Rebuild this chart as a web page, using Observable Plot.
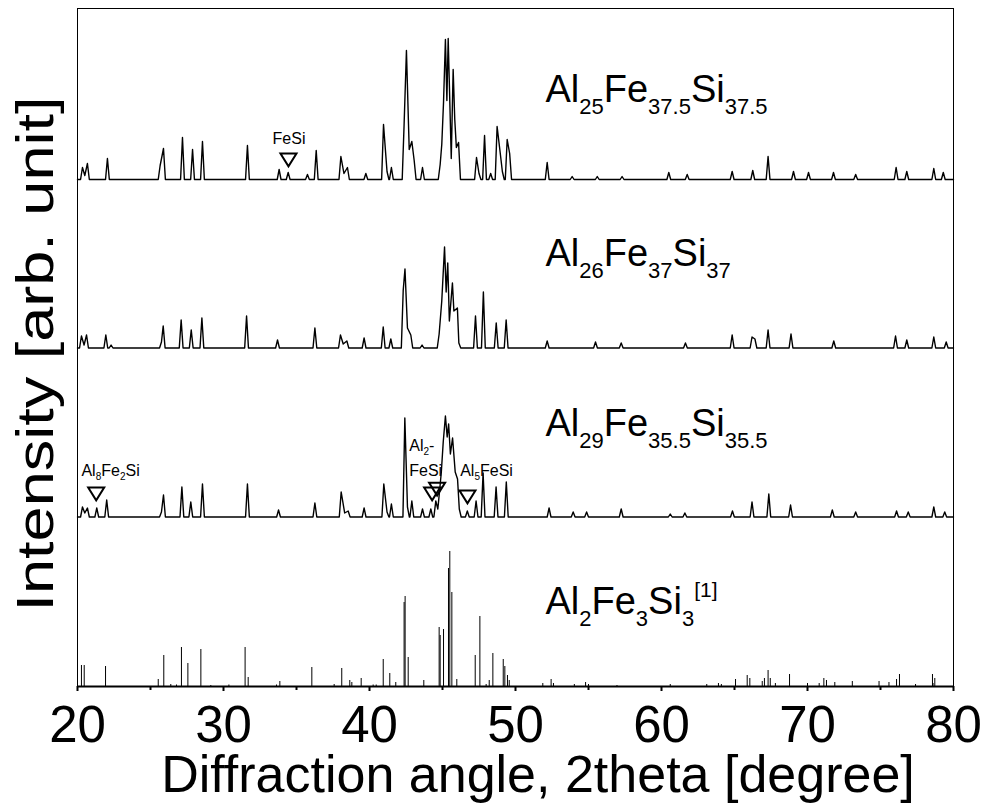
<!DOCTYPE html>
<html><head><meta charset="utf-8">
<script src="https://cdn.jsdelivr.net/npm/d3@7"></script>
<script src="https://cdn.jsdelivr.net/npm/@observablehq/plot@0.6"></script>
<style>body{margin:0;background:#fff} svg{display:block}</style>
</head><body><div id="chart"></div>
<script>
// ---- axis ticks ----
const xTicksMajor = [20, 30, 40, 50, 60, 70, 80];
const xTicksMinor = [25, 35, 45, 55, 65, 75];

// ---- vertical offsets of the measured patterns (intensity units) ----
const offsets = [507, 338.5, 169.5];

// ---- measured patterns: [2theta, intensity above baseline] vertices ----
const pat25 = [
  [20.34,12],[20.5,4],[20.68,16],[22.05,21],[25.66,14],[25.89,31],[27.19,42],[27.88,30],[28.56,38],
  [31.64,34],[33.81,10],[34.43,7],[35.75,5],[36.35,29],[38.04,23],[38.25,6],[38.49,12],[39.75,6],
  [40.96,55],[41.2,8],[41.5,12],[42.37,55],[42.53,129],[42.72,30],[42.9,38],[43.06,19],[43.63,12],
  [44.84,15],[44.95,35],[45.07,77],[45.2,140],[45.3,79],[45.39,141],[45.6,21],[45.73,110],[45.84,60],
  [45.95,32],[46.1,37],[47.33,22],[47.5,6],[47.88,44],[48.3,6],[48.74,53],[48.95,27],[49.1,8],
  [49.43,40],[49.6,26],[52.17,17],[53.88,3],[55.6,3],[57.3,3],[60.5,7],[61.76,5],[64.84,8],[66.25,9],
  [67.3,23],[69.04,8],[70.07,7],[71.78,7],[73.3,5],[76.07,12],[76.8,8],[78.65,11],[79.3,7]
];
const pat26 = [
  [20.27,12],[20.45,3],[20.62,13],[21.94,13],[22.3,3],[25.75,6],[25.87,22],[27.1,28],[27.79,18],
  [28.52,30],[31.58,32],[33.7,8],[36.26,20],[38.01,13],[38.2,4],[38.45,7],[39.63,10],[40.94,21],
  [41.46,9],[42.31,58],[42.43,79],[42.6,20],[42.83,13],[43.6,3],[44.77,14],[44.95,47],[45.14,101],
  [45.25,56],[45.36,85],[45.47,27],[45.68,65],[45.78,37],[46.02,40],[46.12,5],[47.26,32],[47.8,56],
  [48.68,25],[49.36,28],[52.17,7],[55.48,6],[57.24,5],[61.64,5],[64.84,13],[66.2,11],[66.4,9],
  [67.3,18],[68.87,14],[71.8,7],[76.03,12],[76.8,8],[78.65,11],[79.5,6]
];
const pat29 = [
  [20.34,10],[20.5,4],[20.68,9],[21.32,9],[22.0,17],[25.75,5],[25.89,22],[27.15,30],[27.76,15],
  [28.56,33],[31.64,33],[33.77,7],[36.26,14],[38.06,25],[38.3,4],[38.54,6],[39.63,9],[40.98,33],
  [41.2,5],[41.5,13],[42.42,99],[42.6,10],[42.9,16],[43.63,8],[44.2,8],[44.54,16],[44.68,8],[44.8,26],
  [44.92,45],[45.05,75],[45.2,101],[45.32,80],[45.42,93],[45.54,63],[45.69,79],[45.87,45],[46.03,38],
  [46.15,8],[46.7,6],[47.3,16],[47.78,44],[48.67,30],[49.37,35],[52.3,9],[53.95,5],[54.87,5],[57.24,8],
  [60.6,3],[61.6,4],[64.86,6],[66.2,15],[67.35,23],[68.84,12],[71.7,7],[73.3,5],[76.1,6],[76.9,5],
  [78.65,10],[79.4,5]
];
// ---- reference stick pattern Al2Fe3Si3: [2theta, intensity] ----
const sticks = [
  [20.27,21],[20.46,21],[21.92,20],[25.53,7],[25.91,31],[26.39,2],[26.78,1.5],[27.12,39],[27.56,23],
  [28.45,37],[29.13,1],[30.37,1.5],[31.48,39],[31.69,9],[33.63,1.5],[33.86,5],[36.05,19],[37.58,2],
  [38.1,18],[38.65,6],[38.79,4],[39.43,8],[40.25,1.5],[40.46,1.5],[40.94,27],[41.39,13],[41.8,4],
  [42.37,84],[42.44,90],[42.65,29],[43.72,6],[44.77,59],[44.84,51],[45.07,57],[45.41,118],[45.5,135],
  [45.64,94],[45.98,7],[47.24,31],[47.56,70],[47.99,2],[48.2,6],[48.45,33],[49.16,27],[49.27,20],
  [49.45,11],[49.57,6],[51.87,3],[52.44,7],[52.6,3],[54.03,2],[54.8,4],[55.0,2],[56.95,1],[60.6,2],
  [63.1,2],[63.9,3],[64.1,2],[65.07,7],[65.87,11],[66.05,8],[66.9,5],[67.05,8],[67.3,16],[67.45,8],
  [67.8,3],[68.77,12],[70.0,3],[70.8,3],[71.12,8],[71.3,6],[71.87,4],[73.07,5],[74.9,5],[75.58,4],
  [76.1,7],[76.3,12],[77.4,2],[78.56,12],[78.6,3],[78.72,8]
];

// ---- labels ----
const sampleLabels = ["Al_{25}Fe_{37.5}Si_{37.5}", "Al_{26}Fe_{37}Si_{37}", "Al_{29}Fe_{35.5}Si_{35.5}", "Al_{2}Fe_{3}Si_{3}^{[1]}"];
const sampleLabelX = [52.05, 52.05, 52.05, 52.05];
const sampleLabelY = [585, 421, 251, 73];
const phaseLabels = ["FeSi ", "Al_{8}Fe_{2}Si", "Al_{2}-", "FeSi", "Al_{5}FeSi"];
const phaseLabelX = [33.36, 20.27, 42.72, 42.72, 46.21];
const phaseLabelY = [542.7, 211, 236, 211, 211];
const markerX = [34.45, 21.28, 44.29, 44.63, 46.71];
const markerY = [526.6, 192.6, 192.5, 197.3, 189.5];
const xLabel = "Diffraction angle, 2theta [degree]";
const yLabel = "Intensity [arb. unit]";

// ---- build line tables from the vertex lists ----
const HW = 0.13;
function profile(peaks, offset, name) {
  const pts = [{x: 20, y: offset, s: name}];
  let prev = null;
  for (const [x, h] of peaks) {
    if (prev === null || x - prev > 2 * HW) {
      if (prev !== null) pts.push({x: prev + HW, y: offset, s: name});
      pts.push({x: x - HW, y: offset, s: name});
    }
    pts.push({x, y: offset + h, s: name});
    prev = x;
  }
  pts.push({x: prev + HW, y: offset, s: name});
  pts.push({x: 80, y: offset, s: name});
  return pts;
}
const lineData = [
  ...profile(pat25, offsets[0], "a"),
  ...profile(pat26, offsets[1], "b"),
  ...profile(pat29, offsets[2], "c")
];
const stickData = sticks.map(([x, h]) => ({x, h}));
const sampleData = sampleLabels.map((t, i) => ({t, x: sampleLabelX[i], y: sampleLabelY[i]}));
const phaseData = phaseLabels.map((t, i) => ({t, x: phaseLabelX[i], y: phaseLabelY[i]}));
const markerData = markerX.map((x, i) => ({x, y: markerY[i]}));

const downTriangle = {
  draw(ctx, size) {
    const r = Math.sqrt(size / Math.PI);
    ctx.moveTo(-r, -0.8 * r);
    ctx.lineTo(r, -0.8 * r);
    ctx.lineTo(0, 0.8 * r);
    ctx.closePath();
  }
};

const FONT = "'Liberation Sans', Arial, sans-serif";

const plot = Plot.plot({
  width: 982,
  height: 806,
  marginLeft: 77,
  marginRight: 29,
  marginTop: 8,
  marginBottom: 120,
  style: {fontFamily: FONT, background: "white", color: "black"},
  x: {domain: [20, 80]},
  y: {domain: [0, 678], axis: null},
  marks: [
    Plot.line(lineData, {x: "x", y: "y", z: "s", stroke: "black", strokeWidth: 1.4, strokeLinejoin: "round"}),
    Plot.ruleX(stickData, {x: "x", y1: 0, y2: "h", stroke: "black", strokeWidth: 1}),
    Plot.dot(markerData, {x: "x", y: "y", r: 8, symbol: downTriangle, stroke: "black", fill: "none", strokeWidth: 2}),
    Plot.text(sampleData, {x: "x", y: "y", text: "t", textAnchor: "start", lineAnchor: "bottom", fontSize: 38, fill: "black"}),
    Plot.text(phaseData, {x: "x", y: "y", text: "t", textAnchor: "start", lineAnchor: "bottom", fontSize: 16, fill: "black"}),
    Plot.frame({stroke: "black", strokeWidth: 1}),
    Plot.ruleY([0], {stroke: "black", strokeWidth: 2}),
    Plot.axisX({ticks: xTicksMinor, tickSize: 4, strokeWidth: 2, text: null, label: null}),
    Plot.axisX({ticks: xTicksMajor, tickSize: 5, tickPadding: 14, strokeWidth: 2, fontSize: 51, label: null}),
    Plot.text([xLabel], {x: 51.54, y: -105, text: d => d, textAnchor: "middle", lineAnchor: "bottom", fontSize: 52, fill: "black"}),
    Plot.text([yLabel], {x: 18.3, y: 332.5, text: d => d, rotate: -90, textAnchor: "middle", lineAnchor: "bottom", fontSize: 52, fill: "black"})
  ]
});

// rich text: _{sub} and ^{sup}
function richify(labels, subSize, subDy, supSize, supDy) {
  const set = new Set(labels);
  d3.select(plot).selectAll("text").each(function () {
    const s = this.textContent;
    if (!set.has(s)) return;
    const el = d3.select(this);
    el.text(null);
    const re = /([_^])\{([^}]*)\}|([^_^]+)/g;
    let m, cur = 0;
    while ((m = re.exec(s))) {
      const ts = el.append("tspan");
      let target = 0;
      if (m[1] === "_") { target = subDy; ts.attr("font-size", subSize).text(m[2]); }
      else if (m[1] === "^") { target = supDy; ts.attr("font-size", supSize).text(m[2]); }
      else { ts.text(m[3].trim()); }
      if (target !== cur) ts.attr("dy", target - cur);
      cur = target;
    }
  });
}
richify(sampleLabels, 22, 12, 21, -17);
richify(phaseLabels, 10, 4, 10, -6);

// stretch the y-axis title to the length it has in the reference
d3.select(plot).selectAll("text").filter(function () { return this.textContent === yLabel; })
  .attr("textLength", 515).attr("lengthAdjust", "spacingAndGlyphs");

document.getElementById("chart").appendChild(plot);
</script>
</body></html>
